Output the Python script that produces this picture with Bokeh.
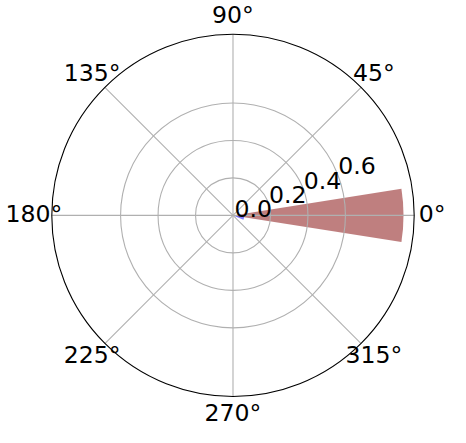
import numpy as np
from bokeh.plotting import figure
from bokeh.models import ColumnDataSource
from bokeh.core.properties import value
from bokeh.embed import file_html
from bokeh.resources import INLINE

# ---- data ----
bar_angles_deg = [0.0, -13.5]        # bar centre angles
bar_widths_deg = [18.0, 18.0]        # angular width of bars
bar_radii = [0.91, 0.06]             # bar lengths
bar_colors = ["#800000", "#0000ff"]
r_ticks = [0.0, 0.2, 0.4, 0.6]
r_tick_labels = ["0.0", "0.2", "0.4", "0.6"]
theta_ticks = [0, 45, 90, 135, 180, 225, 270, 315]
theta_labels = ["0°", "45°", "90°", "135°", "180°", "225°", "270°", "315°"]
r_max = 0.967

# ---- layout (reference scaled so that every label fits 450x427) ----
s = 0.944
W, H = 450, 427
scale = 198.5 * s                   # px per data unit
cx, cy = 232.5, 214.9               # centre in frame px (from top-left)
x_range = (-cx / scale, (W - cx) / scale)
y_range = (-(H - cy) / scale, cy / scale)

p = figure(width=W, height=H, x_range=x_range, y_range=y_range,
           output_backend="svg", toolbar_location=None, min_border=0,
           match_aspect=False)
p.axis.visible = False
p.grid.visible = False
p.outline_line_color = None
p.background_fill_color = "white"

FONT = value("DejaVu Sans")
FS = "%.1fpx" % (25 * s)

# bars
a = np.radians(bar_angles_deg)
w = np.radians(bar_widths_deg)
bars = ColumnDataSource(dict(x=[0] * len(bar_radii), y=[0] * len(bar_radii),
                             r=bar_radii, start=list(a - w / 2), end=list(a + w / 2),
                             color=bar_colors))
p.wedge(x="x", y="y", radius="r", start_angle="start", end_angle="end",
        fill_color="color", fill_alpha=0.5, line_color=None, source=bars)

# grid circles
grid_r = [r for r in r_ticks if r > 0]
p.circle(x=[0] * len(grid_r), y=[0] * len(grid_r), radius=grid_r,
         fill_color=None, line_color="#b0b0b0", line_width=1.1)

# spokes
th = np.radians(theta_ticks)
xs = [[0, r_max * np.cos(t)] for t in th]
ys = [[0, r_max * np.sin(t)] for t in th]
p.multi_line(xs=xs, ys=ys, line_color="#b0b0b0", line_width=1.1)

# outer circle
p.circle(x=[0], y=[0], radius=[r_max], fill_color=None,
         line_color="black", line_width=1.1)

# theta labels
lab_r = 1.063
p.text(x=list(lab_r * np.cos(th)), y=list(lab_r * np.sin(th)), text=theta_labels,
       text_align="center", text_baseline="middle", y_offset=-1.5 * s,
       text_font=FONT, text_font_size=FS, text_color="black")

# radial labels
ra = np.radians(22.5)
p.text(x=[r * np.cos(ra) for r in r_ticks], y=[r * np.sin(ra) for r in r_ticks],
       text=r_tick_labels, text_align="left", text_baseline="alphabetic",
       x_offset=1.5 * s, y_offset=-7 * s, text_font=FONT, text_font_size=FS,
       text_color="black")

open("out.html", "w").write(file_html(p, INLINE))
